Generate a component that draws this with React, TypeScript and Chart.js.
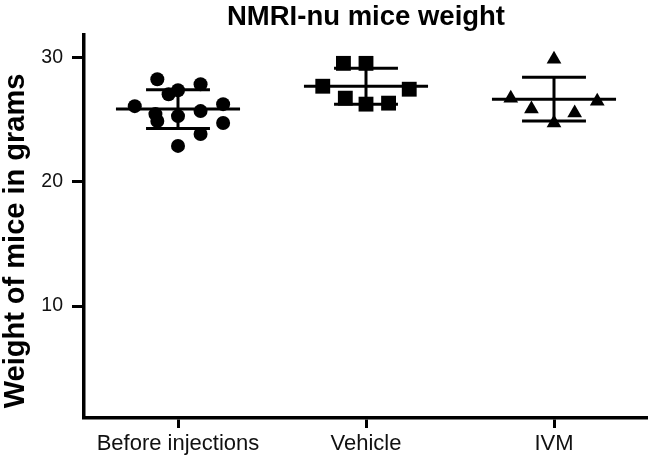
import React, { useEffect, useRef } from "react";
import { Chart, registerables } from "chart.js";

Chart.register(...registerables);

const categories = ["Before injections", "Vehicle", "IVM"];
const beforeValues = [28.24, 27.84, 27.04, 27.36, 26.08, 25.44, 24.88, 25.28, 25.68, 26.24, 24.72, 23.84, 22.88];
const beforeJitter = [-0.11, 0.12, -0.05, 0, -0.23, -0.12, -0.11, 0, 0.12, 0.24, 0.24, 0.12, 0];
const vehicleValues = [29.52, 29.52, 27.68, 27.44, 26.72, 26.24, 26.32];
const vehicleJitter = [-0.12, 0, -0.23, 0.23, -0.11, 0, 0.12];
const ivmValues = [29.84, 26.72, 25.84, 25.52, 26.48, 24.72];
const ivmJitter = [0, -0.23, -0.12, 0.11, 0.23, 0];
const groupMeans = [25.84, 27.68, 26.64];
const groupSDs = [1.56, 1.44, 1.76];
const yTicks = [10, 20, 30];
const titleText = "NMRI-nu mice weight";
const yTitleText = "Weight of mice in grams";

const FONT = "'Liberation Sans', Arial, Helvetica, sans-serif";

const yTitlePlugin = {
  id: "yTitleText",
  afterDraw(chart: any) {
    const ctx = chart.ctx;
    ctx.save();
    ctx.translate(16, 241);
    ctx.rotate(-Math.PI / 2);
    ctx.font = `bold 29px ${FONT}`;
    ctx.fillStyle = "#000";
    ctx.textAlign = "center";
    ctx.textBaseline = "middle";
    ctx.fillText(yTitleText, 0, 0);
    ctx.restore();
  },
};

export default function App() {
  const ref = useRef<HTMLCanvasElement | null>(null);

  useEffect(() => {
    if (!ref.current) return;
    const groups = [
      { values: beforeValues, jitter: beforeJitter, style: "circle", radius: 7 },
      { values: vehicleValues, jitter: vehicleJitter, style: "rect", radius: 10.5 },
      { values: ivmValues, jitter: ivmJitter, style: "triangle", radius: 8.5 },
    ];
    const datasets: any[] = [];
    groups.forEach((g, i) => {
      datasets.push({
        type: "scatter",
        data: g.values.map((v, k) => ({ x: i + g.jitter[k], y: v })),
        pointStyle: g.style,
        pointRadius: g.radius,
        backgroundColor: "#000",
        borderColor: "#000",
        borderWidth: 0,
        order: 2,
      });
      const m = groupMeans[i];
      const s = groupSDs[i];
      const lineStyle = {
        type: "line",
        borderColor: "#000",
        borderWidth: 3,
        pointRadius: 0,
        fill: false,
        tension: 0,
        order: 1,
      };
      datasets.push({ ...lineStyle, data: [{ x: i - 0.33, y: m }, { x: i + 0.33, y: m }] });
      datasets.push({ ...lineStyle, data: [{ x: i - 0.17, y: m + s }, { x: i + 0.17, y: m + s }] });
      datasets.push({ ...lineStyle, data: [{ x: i - 0.17, y: m - s }, { x: i + 0.17, y: m - s }] });
      datasets.push({ ...lineStyle, data: [{ x: i, y: m - s }, { x: i, y: m + s }] });
    });

    const chart = new Chart(ref.current, {
      type: "scatter",
      data: { datasets },
      plugins: [yTitlePlugin],
      options: {
        animation: false,
        responsive: true,
        maintainAspectRatio: false,
        layout: { padding: 0, autoPadding: false },
        plugins: {
          legend: { display: false },
          tooltip: { enabled: false },
          title: {
            display: true,
            text: titleText,
            fullSize: false,
            color: "#000",
            font: { family: FONT, size: 27.5, weight: "bold" },
            padding: { top: 1, bottom: 1 },
          },
        },
        scales: {
          x: {
            type: "linear",
            min: -0.5,
            max: 2.5,
            afterBuildTicks: (axis: any) => {
              axis.ticks = categories.map((_, i) => ({ value: i }));
            },
            afterFit: (axis: any) => {
              axis.height = 42;
              axis.paddingLeft = 0;
              axis.paddingRight = 0;
            },
            border: { display: true, color: "#000", width: 3.5 },
            grid: {
              display: true,
              drawOnChartArea: false,
              drawTicks: true,
              tickLength: 10,
              tickWidth: 3,
              tickColor: "#000",
            },
            ticks: {
              color: "#111",
              padding: 3,
              maxRotation: 0,
              autoSkip: false,
              font: { family: FONT, size: 22 },
              callback: (v: any) => categories[Math.round(Number(v))] ?? "",
            },
          },
          y: {
            type: "linear",
            min: 1,
            max: 31.8,
            afterBuildTicks: (axis: any) => {
              axis.ticks = yTicks.map((v) => ({ value: v }));
            },
            afterFit: (axis: any) => {
              axis.width = 84;
              axis.paddingTop = 0;
              axis.paddingBottom = 0;
            },
            border: { display: true, color: "#000", width: 3.5 },
            grid: {
              display: true,
              drawOnChartArea: false,
              drawTicks: true,
              tickLength: 12,
              tickWidth: 3,
              tickColor: "#000",
            },
            ticks: {
              color: "#111",
              padding: 9,
              font: { family: FONT, size: 19.5 },
            },
          },
        },
      } as any,
    });
    return () => chart.destroy();
  }, []);

  return (
    <div style={{ position: "absolute", left: 0, top: 0, width: 648, height: 460, background: "#fff" }}>
      <canvas ref={ref} />
    </div>
  );
}
